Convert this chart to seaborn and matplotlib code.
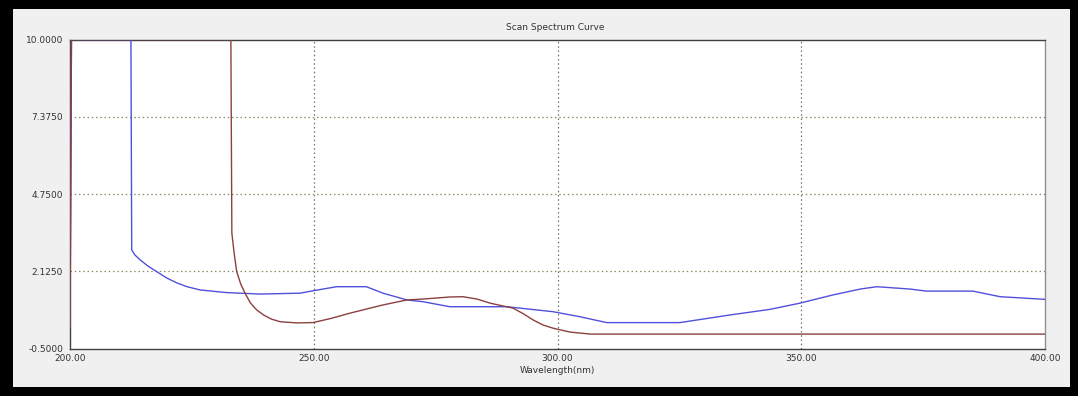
import matplotlib
matplotlib.use("Agg")
import matplotlib.pyplot as plt
import seaborn as sns
import pandas as pd
from matplotlib.patches import Rectangle

# ---- data ----
blue_wl = [200.0, 200.3, 212.5, 212.66, 213.3, 214.4, 216.0, 217.8, 219.8, 221.9,
           224.0, 226.7, 232.1, 239.0, 247.2, 249.8, 254.7, 260.8, 264.2, 269.1,
           272.4, 277.9, 289.6, 299.1, 304.6, 310.1, 325.1, 335.4, 343.6, 349.7,
           356.5, 362.1, 365.5, 372.3, 375.7, 385.2, 390.8, 400.0]
blue_abs = [0.20, 10.0, 10.0, 2.85, 2.68, 2.51, 2.30, 2.11, 1.90, 1.73,
            1.60, 1.49, 1.40, 1.35, 1.38, 1.46, 1.60, 1.60, 1.38, 1.15,
            1.09, 0.92, 0.92, 0.75, 0.58, 0.38, 0.38, 0.64, 0.83, 1.04,
            1.32, 1.52, 1.60, 1.52, 1.45, 1.45, 1.26, 1.17]

red_wl = [200.0, 200.3, 233.0, 233.2, 233.7, 234.2, 235.0, 235.9, 237.0, 238.3,
          239.7, 241.3, 243.1, 246.5, 249.8, 253.5, 257.4, 264.2, 269.1, 272.4,
          277.9, 280.6, 283.5, 286.2, 290.9, 293.0, 295.0, 297.0, 299.1, 302.5,
          306.7, 400.0]
red_abs = [0.20, 10.0, 10.0, 3.42, 2.70, 2.11, 1.70, 1.38, 1.05, 0.81,
           0.64, 0.50, 0.41, 0.37, 0.38, 0.52, 0.70, 0.98, 1.15, 1.18,
           1.25, 1.26, 1.18, 1.04, 0.87, 0.68, 0.47, 0.30, 0.19, 0.06,
           -0.01, -0.01]

x_ticks = [200.0, 250.0, 300.0, 350.0, 400.0]
x_labels = ["200.00", "250.00", "300.00", "350.00", "400.00"]
y_ticks = [-0.5, 2.125, 4.75, 7.375, 10.0]
y_labels = ["-0.5000", "2.1250", "4.7500", "7.3750", "10.0000"]

df = pd.concat([
    pd.DataFrame({"wl": blue_wl, "abs": blue_abs, "series": "blue"}),
    pd.DataFrame({"wl": red_wl, "abs": red_abs, "series": "red"}),
], ignore_index=True)

sns.set_style("white")
plt.rcParams["font.family"] = ["DejaVu Sans"]

W, H = 1078, 396
fig = plt.figure(figsize=(W / 100, H / 100), dpi=100, facecolor="black")
# grey window panel inside black frame
fig.patches.append(Rectangle((13 / W, 9 / H), (W - 13 - 8) / W, (H - 9 - 9) / H,
                             transform=fig.transFigure, facecolor="#f0f0f0",
                             edgecolor="none", zorder=-5))

ax = fig.add_axes([70 / W, 47.5 / H, 975 / W, 309 / H])
ax.set_zorder(2)
ax.set_facecolor("white")

sns.lineplot(data=df, x="wl", y="abs", hue="series", sort=False, estimator=None,
             palette={"blue": "#5050dc", "red": "#8c4040"}, linewidth=1.0,
             legend=False, ax=ax, zorder=3)

ax.set_xlim(200, 400)
ax.set_ylim(-0.5, 10)
ax.set_xticks(x_ticks)
ax.set_xticklabels(x_labels)
ax.set_yticks(y_ticks)
ax.set_yticklabels(y_labels)
ax.tick_params(axis="both", labelsize=6.5, colors="#333333", length=3, width=0.8,
               direction="out", pad=2)
ax.tick_params(axis="x", length=0, pad=4)

for v in x_ticks[1:-1]:
    ax.axvline(v, color="#707070", linestyle=(0, (1.2, 2.2)), linewidth=0.9, zorder=1)
for v in y_ticks[1:-1]:
    ax.axhline(v, color="#8a8a66", linestyle=(0, (1.2, 2.2)), linewidth=0.9, zorder=1)

for s in ["left", "bottom", "top"]:
    ax.spines[s].set_color("#404040")
    ax.spines[s].set_linewidth(1.0)
ax.spines["right"].set_color("#909090")
ax.spines["right"].set_linewidth(1.0)

ax.set_xlabel("Wavelength(nm)", fontsize=6.5, color="#333333", labelpad=2)
ax.set_ylabel("")
fig.text(555 / W, 1 - 27 / H, "Scan Spectrum Curve", fontsize=6.5, color="#333333",
         ha="center", va="center", zorder=3)

fig.savefig("out.png", dpi=100, facecolor=fig.get_facecolor())
